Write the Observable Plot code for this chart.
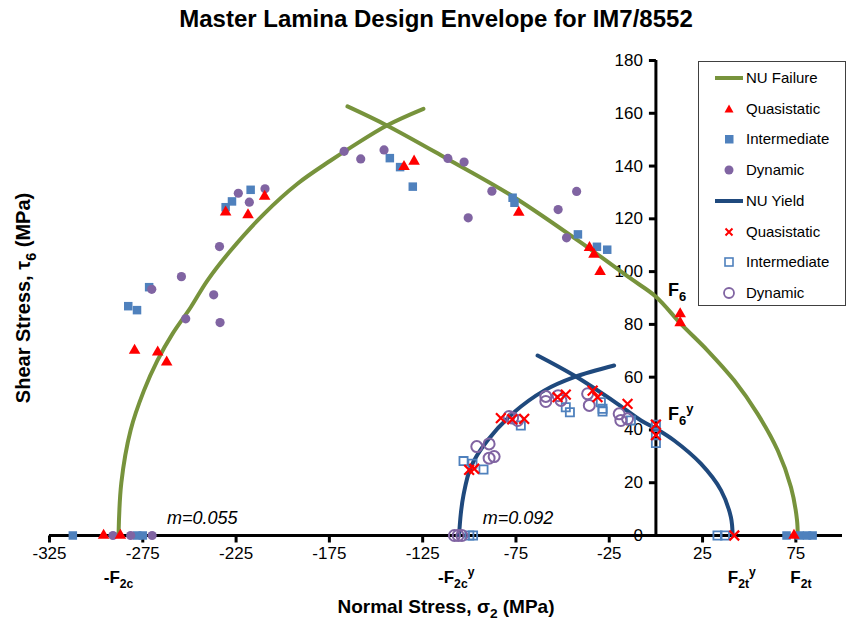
<!DOCTYPE html>
<html>
<head>
<meta charset="utf-8">
<script src="https://cdn.jsdelivr.net/npm/d3@7"></script>
<script src="https://cdn.jsdelivr.net/npm/@observablehq/plot@0.6"></script>
<style>
  body { margin: 0; background: #fff; font-family: "Liberation Sans", Arial, sans-serif; }
  #wrap { position: relative; width: 850px; height: 624px; overflow: hidden; }
  #title { position: absolute; top: 5px; left: 11px; width: 850px; text-align: center; font-weight: bold; font-size: 24px; color: #000; }
  #chart { position: absolute; top: 40px; left: 0; }
  #legend { position: absolute; left: 698px; top: 61px; width: 148px; height: 245px; border: 1px solid #404040; background: #fff; box-sizing: border-box; }
  .li { position: absolute; left: 0; height: 20px; width: 148px; font-size: 15px; }
  .li svg { position: absolute; left: 14px; top: 0; }
  .li span { position: absolute; left: 47px; top: 1px; white-space: nowrap; }
</style>
</head>
<body>
<div id="wrap">
  <div id="title">Master Lamina Design Envelope for IM7/8552</div>
  <div id="chart"></div>
  <div id="legend"></div>
</div>
<script>
// ---------- Envelope curves ----------
const failLeftS  = [-288, -286.5, -281.5, -274.4, -267.2, -259.1, -249.3, -240.4, -227.9, -210, -192.1, -174.3, -163.5, -144.2, -124.6];
const failLeftT  = [0, 20, 40, 54.9, 66.3, 76.4, 86.5, 96.6, 108, 121.9, 133.3, 142.1, 147.1, 155.4, 161.7];
const failRightS = [-165.3, -144.2, -111.7, -76, -36.6, -13.4, 0, 13.4, 27.7, 42, 54.5, 65.3, 72.4, 75.6, 76];
const failRightT = [162.6, 155.4, 142.7, 128.2, 109.2, 97.3, 90.5, 80.2, 70.1, 58.7, 46.1, 32.2, 18.3, 6, 0];
const yieldLeftS  = [-105.5, -104.6, -103.2, -99.2, -90.3, -76, -59.9, -43.8, -22.4];
const yieldLeftT  = [0, 8, 15, 25.9, 36, 46.7, 54.9, 60, 64.4];
const yieldRightS = [-63.4, -43.8, -20.6, -8, 0, 9.8, 24.1, 34.9, 40.2, 41.1];
const yieldRightT = [68.2, 60.6, 49.9, 43.6, 40.5, 36, 27.2, 17.1, 6.9, 0];

// ---------- Failure data ----------
const failQuasiS = [-279.4, -267, -262.2, -209.7, -218.6, -230.6, -135, -129.6, -73.5, -35.6, -33.2, -29.9, 13, 13, -296, -287, 74];
const failQuasiT = [70.1, 69.5, 65.7, 128.5, 121.5, 122.5, 139.8, 141.8, 122.4, 109.1, 106.5, 100, 84, 80.6, 0, 0, 0];
const failInterS = [-271.6, -282.8, -278.1, -217.2, -227.2, -230.6, -142.6, -137.1, -130.3, -76.8, -75.8, -41.8, -31.6, -26.1, -312.5, -278, -275, 70, 77, 81, 84];
const failInterT = [94.1, 86.9, 85.4, 131, 126.6, 124.4, 143, 139.6, 132.2, 128, 126.1, 114.1, 109.4, 108.3, 0, 0, 0, 0, 0, 0, 0];
const failDynS = [-254.3, -270.2, -237, -252, -233.6, -223.8, -217.9, -209.5, -233.9, -167.1, -158.2, -145.7, -111.5, -102.8, -87.9, -100.6, -52.4, -42.5, -47.9, -291, -281.5, -270];
const failDynT = [98.1, 93.3, 91.2, 82.1, 80.7, 129.7, 126.3, 131.4, 109.5, 145.6, 142.7, 146.1, 142.9, 141.5, 130.5, 120.4, 123.5, 130.4, 112.8, 0, 0, 0];

// ---------- Yield data ----------
const yldQuasiS = [-83.1, -70.6, -77, -100.1, -97.4, -48.3, -52.7, -33.9, -31.3, -15.2, 0, 0, 42];
const yldQuasiT = [44.5, 44.2, 44, 24.9, 25.3, 53.4, 52.4, 54.9, 52.4, 49.9, 42, 38, 0];
const yldInterS = [-103.1, -98.3, -92.4, -72.4, -48.3, -46.1, -29.5, -28.6, -28.6, -13.4, 0, 0, 0, -100, -98, 33, 37];
const yldInterT = [28.2, 27.2, 25, 41.7, 48.6, 46.7, 50.5, 48, 47, 43.6, 42, 38, 35, 0, 0, 0, 0];
const yldDynS = [-96, -89.4, -89.4, -86.7, -78.7, -76.8, -74.1, -59, -59, -52.4, -50.9, -36.6, -35.7, -19.7, -18.8, -15.2, -108, -106, -104];
const yldDynT = [33.7, 34.7, 29.3, 29.9, 45.1, 44.5, 43.6, 52.7, 50.8, 53, 51.2, 53.7, 49.3, 46.1, 43.6, 44.2, 0, 0, 0];

// ---------- Axis ticks ----------
const xTicks = [-325, -275, -225, -175, -125, -75, -25, 25, 75];
const yTicks = [0, 20, 40, 60, 80, 100, 120, 140, 160, 180];

// ---------- Annotations ----------
const strengthLabels = ["-F_{2c}", "-F_{2c}^{y}", "F_{2t}^{y}", "F_{2t}"];
const strengthAt = [-288, -107, 46, 77.7];
const shearLabels = ["F_{6}", "F_{6}^{y}"];
const shearAt = [93, 46];
const slopeLabels = ["m=0.055", "m=0.092"];
const slopeAt = [-262, -92.8];

// ---------- Colours ----------
const cFail = "#77933C", cYield = "#1F497D", cRed = "#FF0000", cBlue = "#4F81BD", cPurple = "#8064A2";

const pts = (S, T) => S.map((s, i) => ({s, t: T[i]}));

const tickLeft = {draw(ctx) { ctx.moveTo(0, 0); ctx.lineTo(-7, 0); }};
const tickDown = {draw(ctx) { ctx.moveTo(0, 0); ctx.lineTo(0, 7); }};

const plot = Plot.plot({
  width: 850,
  height: 584,
  marginLeft: 49,
  marginRight: 8,
  marginTop: 20,
  marginBottom: 89,
  x: {domain: [-325, 100], axis: null},
  y: {domain: [0, 180], axis: null},
  style: {fontFamily: "'Liberation Sans', Arial, sans-serif", fontSize: "17px", color: "#000", overflow: "visible"},
  marks: [
    // axes
    Plot.ruleY([0], {stroke: "#000", strokeWidth: 3}),
    Plot.ruleX([0], {y1: 0, y2: 180, stroke: "#000", strokeWidth: 3}),
    Plot.dot(xTicks, {x: d => d, y: 0, symbol: tickDown, fill: "none", stroke: "#000", strokeWidth: 3}),
    Plot.dot(yTicks, {x: 0, y: d => d, symbol: tickLeft, fill: "none", stroke: "#000", strokeWidth: 3}),
    Plot.text(xTicks, {x: d => d, y: 0, dy: 18, text: d => String(d), fontSize: 17}),
    Plot.text(yTicks, {x: 0, y: d => d, dx: -13, textAnchor: "end", text: d => String(d), fontSize: 17}),
    // curves
    Plot.line(pts(failLeftS, failLeftT), {x: "s", y: "t", stroke: cFail, strokeWidth: 4, curve: "catmull-rom"}),
    Plot.line(pts(failRightS, failRightT), {x: "s", y: "t", stroke: cFail, strokeWidth: 4, curve: "catmull-rom"}),
    Plot.line(pts(yieldLeftS, yieldLeftT), {x: "s", y: "t", stroke: cYield, strokeWidth: 4, curve: "catmull-rom"}),
    Plot.line(pts(yieldRightS, yieldRightT), {x: "s", y: "t", stroke: cYield, strokeWidth: 4, curve: "catmull-rom"}),
    // failure markers
    Plot.dot(pts(failInterS, failInterT), {x: "s", y: "t", symbol: "square", r: 4.8, fill: cBlue, stroke: "none"}),
    Plot.dot(pts(failDynS, failDynT), {x: "s", y: "t", symbol: "circle", r: 4.6, fill: cPurple, stroke: "none"}),
    Plot.dot(pts(failQuasiS, failQuasiT), {x: "s", y: "t", symbol: "triangle", r: 4.3, fill: cRed, stroke: "none"}),
    // yield markers
    Plot.dot(pts(yldInterS, yldInterT), {x: "s", y: "t", symbol: "square", r: 4.6, fill: "none", stroke: cBlue, strokeWidth: 1.8}),
    Plot.dot(pts(yldDynS, yldDynT), {x: "s", y: "t", symbol: "circle", r: 5.5, fill: "none", stroke: cPurple, strokeWidth: 2}),
    Plot.dot(pts(yldQuasiS, yldQuasiT), {x: "s", y: "t", symbol: "times", r: 4.5, fill: "none", stroke: cRed, strokeWidth: 2.2}),
    // annotations
    Plot.text(strengthLabels, {x: (d, i) => strengthAt[i], y: 0, dy: 42, text: d => d, fontWeight: "bold", fontSize: 17}),
    Plot.text(shearLabels, {x: 0, y: (d, i) => shearAt[i], dx: 12, textAnchor: "start", text: d => d, fontWeight: "bold", fontSize: 18}),
    Plot.text(slopeLabels, {x: (d, i) => slopeAt[i], y: 0, dy: -17, textAnchor: "start", text: d => d, fontStyle: "italic", fontSize: 18}),
    // axis titles
    Plot.text(["Normal Stress, σ_{2} (MPa)"], {frameAnchor: "bottom", textAnchor: "middle", dy: 77, text: d => d, fontWeight: "bold", fontSize: 19}),
    Plot.text(["Shear Stress, τ_{6} (MPa)"], {frameAnchor: "left", textAnchor: "middle", dx: -26, rotate: -90, text: d => d, fontWeight: "bold", fontSize: 20})
  ]
});
document.getElementById("chart").appendChild(plot);

// rich text: _{sub} and ^{sup}
function richify(svg) {
  svg.querySelectorAll("text").forEach(t => {
    const s = t.textContent;
    if (!/[_^]\{/.test(s)) return;
    const fs = parseFloat(getComputedStyle(t).fontSize) || 16;
    t.textContent = "";
    const parts = s.split(/([_^]\{[^}]*\})/).filter(p => p);
    let shift = 0;
    for (const p of parts) {
      const ts = document.createElementNS("http://www.w3.org/2000/svg", "tspan");
      let target = 0, txt = p, small = false;
      if (p.startsWith("_{")) { target = 0.3 * fs; txt = p.slice(2, -1); small = true; }
      else if (p.startsWith("^{")) { target = -0.4 * fs; txt = p.slice(2, -1); small = true; }
      ts.setAttribute("dy", (target - shift).toFixed(2));
      shift = target;
      if (small) ts.setAttribute("font-size", (0.72 * fs).toFixed(1));
      ts.textContent = txt;
      t.appendChild(ts);
    }
  });
}
richify(plot);

// legend
const legendItems = [
  {label: "NU Failure", kind: "line", color: cFail},
  {label: "Quasistatic", kind: "tri", color: cRed},
  {label: "Intermediate", kind: "sq", color: cBlue},
  {label: "Dynamic", kind: "circ", color: cPurple},
  {label: "NU Yield", kind: "line", color: cYield},
  {label: "Quasistatic", kind: "x", color: cRed},
  {label: "Intermediate", kind: "osq", color: cBlue},
  {label: "Dynamic", kind: "ocirc", color: cPurple}
];
const leg = document.getElementById("legend");
legendItems.forEach((it, i) => {
  const div = document.createElement("div");
  div.className = "li";
  div.style.top = (6 + i * 30.7) + "px";
  let g = "";
  if (it.kind === "line") g = `<line x1="2" y1="10" x2="30" y2="10" stroke="${it.color}" stroke-width="4"/>`;
  if (it.kind === "tri") g = `<path d="M16,5.5 L20.5,13.5 L11.5,13.5 Z" fill="${it.color}"/>`;
  if (it.kind === "sq") g = `<rect x="12" y="6" width="8.5" height="8.5" fill="${it.color}"/>`;
  if (it.kind === "circ") g = `<circle cx="16" cy="10" r="4.5" fill="${it.color}"/>`;
  if (it.kind === "x") g = `<path d="M12.5,6.5 L19.5,13.5 M19.5,6.5 L12.5,13.5" stroke="${it.color}" stroke-width="2"/>`;
  if (it.kind === "osq") g = `<rect x="12" y="6" width="8" height="8" fill="none" stroke="${it.color}" stroke-width="1.6"/>`;
  if (it.kind === "ocirc") g = `<circle cx="16" cy="10" r="5" fill="none" stroke="${it.color}" stroke-width="1.8"/>`;
  div.innerHTML = `<svg width="34" height="20">${g}</svg><span>${it.label}</span>`;
  leg.appendChild(div);
});
</script>
</body>
</html>
